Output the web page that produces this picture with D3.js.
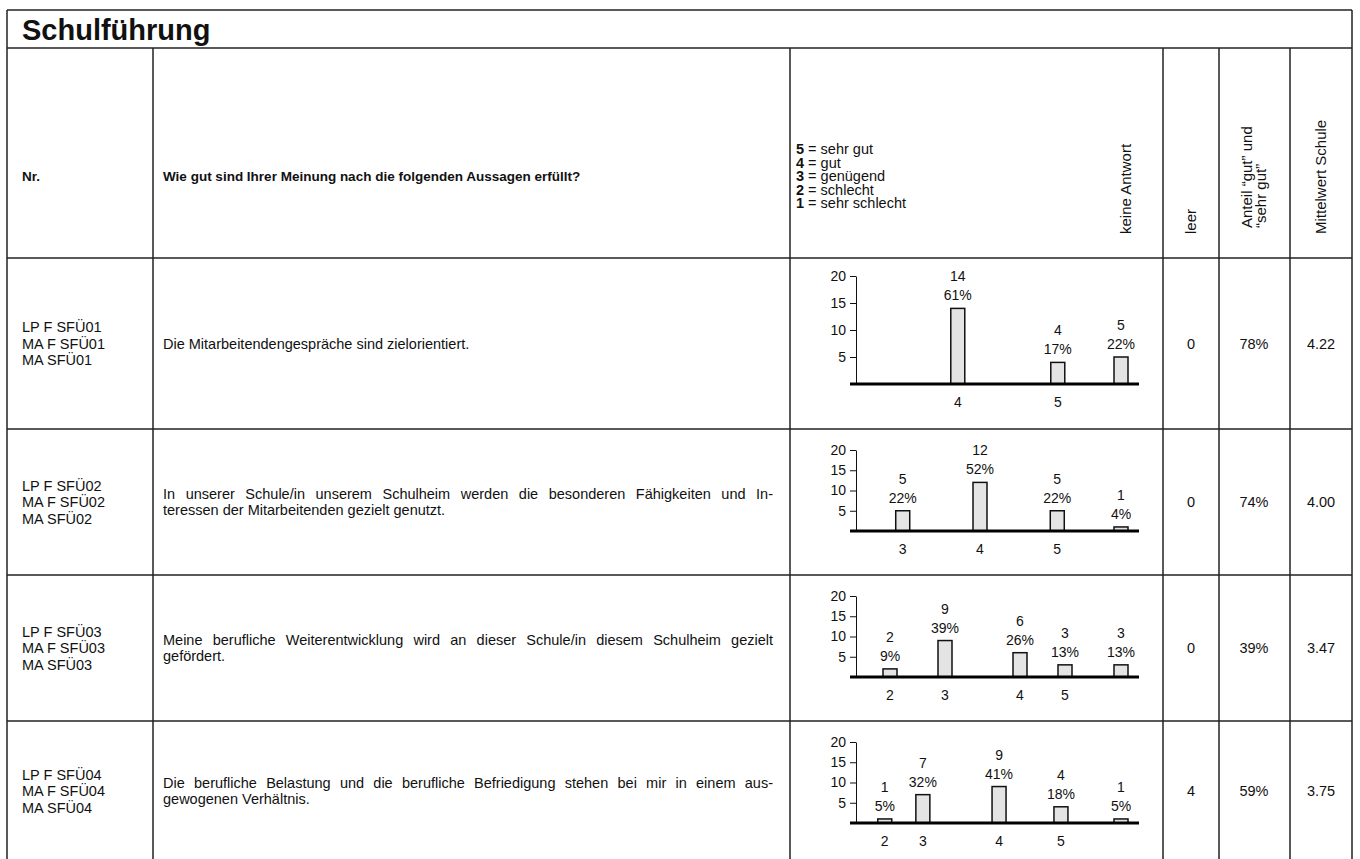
<!DOCTYPE html>
<html><head><meta charset="utf-8">
<script src="https://cdn.jsdelivr.net/npm/d3@7"></script>
<style>
body{margin:0;background:#fff;}
svg text{font-family:"Liberation Sans",Arial,Helvetica,sans-serif;fill:#111;}
</style></head>
<body><svg id="c" width="1360" height="859"></svg>
<script>
// ---------- data ----------
const title = "Schulführung";
const headerNr = "Nr.";
const headerQuestion = "Wie gut sind Ihrer Meinung nach die folgenden Aussagen erfüllt?";
const legendNums = ["5","4","3","2","1"];
const legendTexts = ["sehr gut","gut","genügend","schlecht","sehr schlecht"];
const colHeaders = [["keine Antwort"],["leer"],["Anteil “gut” und","“sehr gut”"],["Mittelwert Schule"]];

const itemCodes = [
  ["LP F SFÜ01","MA F SFÜ01","MA SFÜ01"],
  ["LP F SFÜ02","MA F SFÜ02","MA SFÜ02"],
  ["LP F SFÜ03","MA F SFÜ03","MA SFÜ03"],
  ["LP F SFÜ04","MA F SFÜ04","MA SFÜ04"]
];
const questions = [
  ["Die Mitarbeitendengespräche sind zielorientiert."],
  ["In unserer Schule/in unserem Schulheim werden die besonderen Fähigkeiten und In-","teressen der Mitarbeitenden gezielt genutzt."],
  ["Meine berufliche Weiterentwicklung wird an dieser Schule/in diesem Schulheim gezielt","gefördert."],
  ["Die berufliche Belastung und die berufliche Befriedigung stehen bei mir in einem aus-","gewogenen Verhältnis."]
];
const categories = ["1","2","3","4","5"];
// counts per category 1..5
const counts = [
  [0,0,0,14,4],
  [0,0,5,12,5],
  [0,2,9,6,3],
  [0,1,7,9,4]
];
const pctLabels = [
  ["","","","61%","17%"],
  ["","","22%","52%","22%"],
  ["","9%","39%","26%","13%"],
  ["","5%","32%","41%","18%"]
];
const noAnswerCounts = [5,1,3,1];
const noAnswerPct = ["22%","4%","13%","5%"];
const leerValues = ["0","0","0","4"];
const anteilValues = ["78%","74%","39%","59%"];
const mittelValues = ["4.22","4.00","3.47","3.75"];
const yTicks = [0,5,10,15,20];

// ---------- layout ----------
const svg = d3.select("#c");
const L = 7, R = 1352, T = 10;
const cols = [7,153,790,1163,1219,1290,1352];
const titleBottom = 48, headerBottom = 258;
const rowTops = [258,429,575,721];
const rowBottoms = [429,575,721,867];
const lineCol = "#222";
const FS = 14.5;
const LH = 16.5;

svg.append("rect").attr("width",1360).attr("height",859).attr("fill","#fff");

// grid lines
const g = svg.append("g").attr("stroke",lineCol).attr("stroke-width",1.5).attr("fill","none");
g.append("line").attr("x1",L).attr("x2",R).attr("y1",T).attr("y2",T);
g.append("line").attr("x1",L).attr("x2",L).attr("y1",T).attr("y2",859);
g.append("line").attr("x1",R).attr("x2",R).attr("y1",T).attr("y2",859);
g.append("line").attr("x1",L).attr("x2",R).attr("y1",titleBottom).attr("y2",titleBottom);
g.append("line").attr("x1",L).attr("x2",R).attr("y1",headerBottom).attr("y2",headerBottom);
rowTops.slice(1).forEach(y=>g.append("line").attr("x1",L).attr("x2",R).attr("y1",y).attr("y2",y));
cols.slice(1,-1).forEach(x=>g.append("line").attr("x1",x).attr("x2",x).attr("y1",titleBottom).attr("y2",859));

// title
svg.append("text").attr("x",22).attr("y",40).attr("font-size",29).attr("font-weight","bold").text(title);

// header
const hY = 176;
svg.append("text").attr("x",22).attr("y",hY+5).attr("font-size",13.5).attr("font-weight","bold").text(headerNr);
svg.append("text").attr("x",163).attr("y",hY+5).attr("font-size",13.5).attr("font-weight","bold").text(headerQuestion);
const leg = svg.append("g");
legendNums.forEach((n,i)=>{
  const t = leg.append("text").attr("x",796).attr("y",hY+5+(i-2)*13.5).attr("font-size",14.5);
  t.append("tspan").attr("font-weight","bold").text(n);
  t.append("tspan").text(" = "+legendTexts[i]);
});
const colCenters = [1126,1191,1254,1321];
colHeaders.forEach((lines,i)=>{
  lines.forEach((s,j)=>{
    const x = colCenters[i] + (j-(lines.length-1)/2)*14 + 5;
    svg.append("text").attr("transform",`translate(${x},${i===2?228:234}) rotate(-90)`)
      .attr("font-size",15).text(s);
  });
});

// justified line helper
function justified(parent, s, x0, x1, yb, size){
  const words = s.split(" ");
  const nodes = words.map(w=>parent.append("text").attr("y",yb).attr("font-size",size).text(w));
  const widths = nodes.map(n=>n.node().getComputedTextLength());
  const space = size*0.278;
  let gap = (x1-x0-d3.sum(widths))/(words.length-1);
  if (gap < space) gap = space;
  let xx = x0;
  nodes.forEach((n,i)=>{ n.attr("x",xx); xx += widths[i]+gap; });
}

// rows
rowTops.forEach((top,r)=>{
  const bottom = rowBottoms[r];
  const cy = (top + bottom)/2 + (r===3?-3:0);
  itemCodes[r].forEach((s,j)=>{
    svg.append("text").attr("x",22).attr("y",cy+5+(j-1)*LH).attr("font-size",FS).text(s);
  });
  const q = questions[r];
  q.forEach((s,j)=>{
    const yb = cy+5+(j-(q.length-1)/2)*LH;
    if(j < q.length-1) justified(svg, s, 163, 773, yb, FS);
    else svg.append("text").attr("x",163).attr("y",yb).attr("font-size",FS).text(s);
  });
  [leerValues[r],anteilValues[r],mittelValues[r]].forEach((v,k)=>{
    svg.append("text").attr("x",colCenters[k+1]).attr("y",cy+5).attr("text-anchor","middle").attr("font-size",FS).text(v);
  });

  // chart
  const y0 = r===0 ? 384 : top+102;
  const y1 = r===0 ? 276 : top+21;
  const y = d3.scaleLinear().domain([0,20]).range([y0,y1]);
  const axisX = 856;
  const chart = svg.append("g");
  chart.append("g").attr("transform",`translate(${axisX},0)`)
    .call(d3.axisLeft(y).tickValues(yTicks).tickSize(6).tickSizeOuter(0).tickFormat(d=>d===0?"":d))
    .call(a=>{a.select(".domain").attr("stroke","#111").attr("stroke-width",1);
              a.selectAll(".tick line").attr("stroke","#111");
              a.selectAll(".tick text").attr("font-size",14).attr("font-family","Liberation Sans, Arial").attr("fill","#111").attr("x",-10);});

  // positions: cumulative midpoints among valid answers
  const valid = counts[r];
  const total = d3.sum(valid);
  const x = d3.scaleLinear().domain([0,1]).range([880,1080]);
  let cum = 0;
  const bars = [];
  valid.forEach((c,i)=>{
    if(c>0){ bars.push({cat:categories[i],v:c,p:pctLabels[r][i],cx:x((cum+c/2)/total)}); }
    cum += c;
  });
  const kaX = d3.scaleLinear().domain([0,1]).range([1100,1142]);
  const kaBar = {cat:"",v:noAnswerCounts[r],p:noAnswerPct[r],cx:kaX(0.5)};
  const all = bars.concat(noAnswerCounts[r]>0?[kaBar]:[]);
  const bw = 14;
  chart.selectAll("rect.bar").data(all).enter().append("rect")
    .attr("x",d=>d.cx-bw/2).attr("width",bw)
    .attr("y",d=>y(d.v)).attr("height",d=>y(0)-y(d.v))
    .attr("fill","#e4e4e4").attr("stroke","#111").attr("stroke-width",1.5);
  chart.append("line").attr("x1",axisX-6).attr("x2",1139).attr("y1",y(0)).attr("y2",y(0))
    .attr("stroke","#000").attr("stroke-width",3);
  chart.selectAll("text.pct").data(all).enter().append("text")
    .attr("x",d=>d.cx).attr("y",d=>y(d.v)-8).attr("text-anchor","middle").attr("font-size",14).text(d=>d.p);
  chart.selectAll("text.cnt").data(all).enter().append("text")
    .attr("x",d=>d.cx).attr("y",d=>y(d.v)-27).attr("text-anchor","middle").attr("font-size",14).text(d=>d.v);
  chart.selectAll("text.cat").data(bars).enter().append("text")
    .attr("x",d=>d.cx).attr("y",y(0)+23).attr("text-anchor","middle").attr("font-size",14).text(d=>d.cat);
});
</script></body></html>
